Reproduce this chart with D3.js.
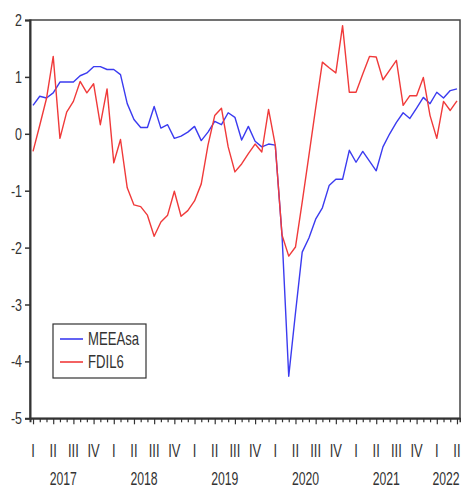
<!DOCTYPE html>
<html><head><meta charset="utf-8">
<script src="https://cdn.jsdelivr.net/npm/d3@7"></script>
<style>body{margin:0;background:#fff}svg{display:block}text{font-family:"Liberation Sans",Arial,sans-serif;fill:#333}</style>
</head><body><svg id="c" width="461" height="488"></svg>
<script>
const months = [];
for (let y = 2017; y <= 2022; y++) for (let m = 1; m <= 12; m++) { if (y === 2022 && m > 4) break; months.push(y + "-" + String(m).padStart(2, "0")); }
const meea = [0.50,0.66,0.63,0.72,0.91,0.91,0.91,1.02,1.07,1.18,1.18,1.13,1.13,1.04,0.53,0.25,0.11,0.11,0.48,0.10,0.16,-0.08,
  -0.04,0.03,0.13,-0.12,0.03,0.22,0.16,0.37,0.29,-0.11,0.13,-0.13,-0.23,-0.18,-0.20,-1.78,-4.26,-3.15,-2.08,-1.83,
  -1.50,-1.30,-0.91,-0.80,-0.80,-0.29,-0.50,-0.31,-0.48,-0.65,-0.23,0.00,0.20,0.37,0.27,0.45,0.64,0.53,0.73,0.63,0.76,0.79];
const fdil6 = [-0.31,0.15,0.62,1.36,-0.08,0.38,0.57,0.92,0.72,0.88,0.16,0.79,-0.51,-0.10,-0.95,-1.25,-1.28,-1.43,-1.80,-1.55,-1.43,-1.01,
  -1.45,-1.35,-1.18,-0.88,-0.20,0.32,0.45,-0.23,-0.67,-0.53,-0.35,-0.18,-0.32,0.43,-0.20,-1.78,-2.15,-1.99,-1.20,-0.38,
  0.45,1.26,1.16,1.07,1.90,0.73,0.73,1.05,1.36,1.35,0.95,1.12,1.29,0.50,0.67,0.67,0.99,0.32,-0.08,0.57,0.41,0.58];
const yTicks = [2,1,0,-1,-2,-3,-4,-5];
const quarterNames = ["I","II","III","IV"];
const years = ["2017","2018","2019","2020","2021","2022"];
const seriesNames = ["MEEAsa","FDIL6"];
const colors = ["#3b3bf0","#f03a3a"];

const svg = d3.select("#c");
const L = 30, R = 460, T = 20, B = 418.3;
const x = d3.scalePoint().domain(months).range([L, R]).padding(0.45);
const y = d3.scaleLinear().domain([-5, 2]).range([B, T]);
const step = x.step();

// narrow text helper (condensed look)
function ntext(g, tx, ty, str, size, sx, anchor) {
  return g.append("text")
    .attr("transform", `translate(${tx},${ty}) scale(${sx},1)`)
    .attr("font-size", size).attr("text-anchor", anchor || "start").text(str);
}

// frame
svg.append("rect").attr("x", L).attr("y", T).attr("width", R - L).attr("height", B - T)
  .attr("fill", "none").attr("stroke", "#444").attr("stroke-width", 1.5);

// y axis
const ya = svg.append("g").attr("transform", `translate(${L},0)`)
  .call(d3.axisLeft(y).tickValues(yTicks).tickSize(5).tickFormat(""));
ya.select(".domain").attr("stroke", "#333").attr("stroke-width", 2);
ya.selectAll(".tick line").attr("stroke", "#333").attr("stroke-width", 1.5);
const yl = svg.append("g");
yTicks.forEach(t => ntext(yl, 22, y(t) + 6, String(t), 16, 0.78, "end"));

// x axis: monthly ticks
const xa = svg.append("g").attr("transform", `translate(0,${B})`)
  .call(d3.axisBottom(x).tickSize(4).tickFormat(""));
xa.select(".domain").attr("stroke", "#333").attr("stroke-width", 2);
xa.selectAll(".tick line").attr("stroke", "#333").attr("stroke-width", 1.2)
  .attr("y2", d => (+d.slice(5) - 1) % 3 === 0 ? 6 : 4);

// quarter labels
const ql = svg.append("g");
months.filter(m => (+m.slice(5) - 1) % 3 === 0)
  .forEach(d => ntext(ql, x(d), 457, quarterNames[(+d.slice(5) - 1) / 3], 18, 0.72, "middle"));

// year labels
const yrl = svg.append("g");
years.forEach(d => {
  let cx = x(d + "-01") + 4.5 * step;
  const half = 14;
  if (cx + half > 460) cx = 460 - half;
  ntext(yrl, cx, 485, d, 18, 0.68, "middle");
});

// lines
const line = d3.line().x((d, i) => x(months[i])).y(d => y(d));
[meea, fdil6].forEach((s, k) => {
  svg.append("path").datum(s).attr("d", line).attr("fill", "none")
    .attr("stroke", colors[k]).attr("stroke-width", 1.4).attr("stroke-linejoin", "round");
});

// legend
const lg = svg.append("g").attr("transform", "translate(53,324)");
lg.append("rect").attr("width", 93).attr("height", 54).attr("fill", "#fff").attr("stroke", "#333").attr("stroke-width", 1.2);
seriesNames.forEach((n, k) => {
  const yy = 15 + k * 23;
  lg.append("line").attr("x1", 7).attr("x2", 30).attr("y1", yy).attr("y2", yy).attr("stroke", colors[k]).attr("stroke-width", 1.6);
  ntext(lg, 35, yy + 6, n, 18, 0.73, "start");
});
</script></body></html>
